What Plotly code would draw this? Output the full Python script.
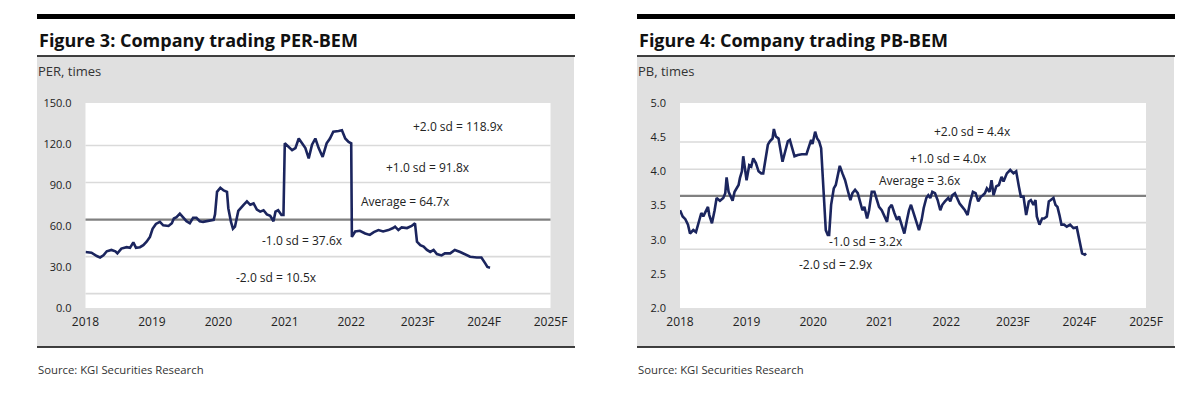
import plotly.graph_objects as go

# ---------------- data ----------------
per_t = [2018.00, 2018.09, 2018.17, 2018.22, 2018.27, 2018.32, 2018.39, 2018.45, 2018.48, 2018.54,
         2018.62, 2018.67, 2018.72, 2018.76, 2018.82, 2018.87, 2018.92, 2018.97, 2019.01, 2019.06,
         2019.12, 2019.17, 2019.25, 2019.30, 2019.33, 2019.37, 2019.42, 2019.47, 2019.52, 2019.57,
         2019.62, 2019.67, 2019.72, 2019.77, 2019.85, 2019.93, 2019.95, 2019.98, 2020.03, 2020.08,
         2020.13, 2020.15, 2020.19, 2020.22, 2020.25, 2020.30, 2020.38, 2020.43, 2020.48, 2020.53,
         2020.58, 2020.63, 2020.68, 2020.73, 2020.78, 2020.83, 2020.86, 2020.90, 2020.95, 2020.98,
         2021.00, 2021.06, 2021.11, 2021.16, 2021.21, 2021.26, 2021.31, 2021.36, 2021.41, 2021.46,
         2021.51, 2021.57, 2021.63, 2021.68, 2021.73, 2021.81, 2021.86, 2021.91, 2021.96, 2022.00,
         2022.01, 2022.06, 2022.13, 2022.21, 2022.28, 2022.34, 2022.41, 2022.48, 2022.56, 2022.63,
         2022.66, 2022.71, 2022.76, 2022.84, 2022.91, 2022.96, 2022.99, 2023.04, 2023.09, 2023.14,
         2023.19, 2023.24, 2023.29, 2023.36, 2023.41, 2023.49, 2023.56, 2023.64, 2023.71, 2023.79,
         2023.89, 2023.96, 2024.02, 2024.05, 2024.09]
per_v = [41.0, 40.5, 38.0, 37.0, 38.5, 41.5, 42.5, 41.5, 40.0, 43.5,
         44.5, 44.0, 48.0, 44.0, 44.5, 46.0, 48.5, 52.0, 58.0, 61.5,
         63.0, 60.5, 60.0, 62.0, 65.5, 66.5, 69.0, 66.5, 63.5, 62.0,
         66.0, 66.0, 63.5, 63.0, 64.0, 64.5, 68.5, 85.0, 88.0, 86.0,
         85.0, 73.0, 63.0, 58.0, 59.5, 71.0, 75.5, 78.0, 75.5, 76.5,
         72.0, 70.5, 71.5, 68.5, 67.5, 63.5, 70.5, 71.5, 68.0, 68.0,
         120.5, 118.0, 115.5, 117.0, 124.0, 120.5, 117.0, 109.5, 119.5, 124.0,
         117.0, 110.5, 120.5, 124.0, 129.0, 129.5, 130.0, 124.0, 121.5, 120.5,
         52.0, 56.0, 56.5, 54.5, 53.5, 55.5, 57.0, 56.0, 57.0, 58.5,
         59.5, 57.0, 59.0, 58.5, 60.0, 62.0, 48.5, 46.0, 45.0, 42.5,
         41.0, 42.5, 39.5, 38.5, 40.0, 40.0, 42.5, 41.0, 39.5, 37.5,
         37.0, 37.0, 32.5, 30.0, 29.5]

pb_t = [2018.00, 2018.04, 2018.08, 2018.12, 2018.15, 2018.20, 2018.24, 2018.28, 2018.32, 2018.35,
        2018.39, 2018.42, 2018.44, 2018.48, 2018.52, 2018.55, 2018.60, 2018.65, 2018.68, 2018.70,
        2018.73, 2018.75, 2018.79, 2018.82, 2018.85, 2018.88, 2018.90, 2018.93, 2018.95, 2018.98,
        2019.00, 2019.04, 2019.07, 2019.10, 2019.14, 2019.18, 2019.22, 2019.25, 2019.29, 2019.32,
        2019.35, 2019.39, 2019.41, 2019.44, 2019.48, 2019.52, 2019.54, 2019.58, 2019.62, 2019.65,
        2019.69, 2019.72, 2019.77, 2019.83, 2019.90, 2019.94, 2019.97, 2019.99, 2020.03, 2020.06,
        2020.09, 2020.12, 2020.14, 2020.15, 2020.17, 2020.19, 2020.22, 2020.24, 2020.27, 2020.31,
        2020.34, 2020.38, 2020.40, 2020.44, 2020.48, 2020.52, 2020.56, 2020.59, 2020.63, 2020.67,
        2020.71, 2020.74, 2020.77, 2020.81, 2020.84, 2020.88, 2020.92, 2020.96, 2020.99, 2021.03,
        2021.07, 2021.11, 2021.14, 2021.18, 2021.22, 2021.26, 2021.29, 2021.33, 2021.37, 2021.41,
        2021.44, 2021.47, 2021.51, 2021.55, 2021.59, 2021.63, 2021.66, 2021.70, 2021.73, 2021.76,
        2021.79, 2021.83, 2021.87, 2021.91, 2021.94, 2021.98, 2022.03, 2022.06, 2022.09, 2022.13,
        2022.17, 2022.20, 2022.24, 2022.28, 2022.32, 2022.36, 2022.40, 2022.44, 2022.48, 2022.52,
        2022.55, 2022.58, 2022.61, 2022.65, 2022.68, 2022.71, 2022.75, 2022.79, 2022.83, 2022.86,
        2022.91, 2022.96, 2023.01, 2023.05, 2023.09, 2023.12, 2023.16, 2023.20, 2023.24, 2023.27,
        2023.31, 2023.34, 2023.36, 2023.40, 2023.44, 2023.47, 2023.51, 2023.54, 2023.57, 2023.61,
        2023.64, 2023.67, 2023.70, 2023.73, 2023.77, 2023.81, 2023.86, 2023.91, 2023.96, 2023.99,
        2024.02, 2024.04, 2024.08, 2024.10]
pb_v = [3.43, 3.34, 3.30, 3.22, 3.09, 3.14, 3.11, 3.26, 3.39, 3.34,
        3.43, 3.48, 3.36, 3.24, 3.43, 3.61, 3.57, 3.61, 3.68, 3.91,
        3.70, 3.65, 3.57, 3.70, 3.75, 3.80, 3.90, 4.00, 4.22, 3.95,
        3.87, 4.09, 4.07, 4.19, 4.12, 4.00, 3.97, 3.97, 4.19, 4.39,
        4.44, 4.48, 4.62, 4.51, 4.48, 4.22, 4.14, 4.29, 4.44, 4.46,
        4.34, 4.22, 4.24, 4.25, 4.25, 4.39, 4.46, 4.40, 4.58, 4.48,
        4.44, 4.34, 4.04, 3.75, 3.51, 3.14, 3.07, 3.07, 3.51, 3.75,
        3.80, 3.97, 4.08, 3.97, 3.87, 3.72, 3.58, 3.68, 3.73, 3.68,
        3.51, 3.43, 3.48, 3.31, 3.43, 3.70, 3.70, 3.56, 3.48, 3.43,
        3.34, 3.26, 3.46, 3.51, 3.39, 3.29, 3.34, 3.22, 3.09, 3.29,
        3.43, 3.51, 3.39, 3.26, 3.14, 3.29, 3.46, 3.61, 3.65, 3.61,
        3.70, 3.68, 3.58, 3.43, 3.51, 3.56, 3.61, 3.56, 3.65, 3.68,
        3.58, 3.53, 3.48, 3.43, 3.36, 3.56, 3.70, 3.68, 3.56, 3.63,
        3.65, 3.68, 3.75, 3.70, 3.87, 3.65, 3.78, 3.80, 3.92, 3.85,
        3.97, 4.02, 3.97, 4.00, 3.78, 3.63, 3.63, 3.36, 3.56, 3.58,
        3.51, 3.58, 3.34, 3.22, 3.31, 3.31, 3.34, 3.56, 3.58, 3.61,
        3.51, 3.48, 3.36, 3.22, 3.22, 3.19, 3.22, 3.17, 3.18, 3.04,
        2.85, 2.80, 2.78, 2.80]

# band levels (+2sd, +1sd, avg, -1sd, -2sd)
per_levels = [118.9, 91.8, 64.7, 37.6, 10.5]
pb_levels = [4.43, 4.03, 3.64, 3.25, 2.86]
band_labels_per = ["+2.0 sd = 118.9x", "+1.0 sd = 91.8x", "Average = 64.7x", "-1.0 sd = 37.6x", "-2.0 sd = 10.5x"]
band_labels_pb = ["+2.0 sd = 4.4x", "+1.0 sd = 4.0x", "Average = 3.6x", "-1.0 sd = 3.2x", "-2.0 sd = 2.9x"]
# label anchor positions (year, value)
per_label_x = [2023.61, 2023.16, 2022.82, 2021.27, 2020.88]
per_label_y = [133.1, 103.1, 77.8, 49.2, 22.2]
pb_label_x = [2022.39, 2022.03, 2021.60, 2020.80, 2020.35]
pb_label_y = [4.59, 4.19, 3.87, 2.98, 2.64]

year_ticks = [2018, 2019, 2020, 2021, 2022, 2023, 2024, 2025]
year_text = ["2018", "2019", "2020", "2021", "2022", "2023F", "2024F", "2025F"]
per_ticks = [0, 30, 60, 90, 120, 150]
pb_ticks = [2.0, 2.5, 3.0, 3.5, 4.0, 4.5, 5.0]

titles = ["Figure 3: Company trading PER-BEM", "Figure 4: Company trading PB-BEM"]
units = ["PER, times", "PB, times"]
source = "Source: KGI Securities Research"

# ---------------- layout helpers ----------------
OFF = 8                      # page body margin
W, H = 1200 - OFF, 395 - OFF
FONT = "Open Sans"
LINE_COLOR = "#1b255e"

def px(x):
    return (x - OFF) / W

def py(y):
    return 1 - (y - OFF) / H

fig = go.Figure()

fig.add_trace(go.Scatter(x=per_t, y=per_v, mode="lines", xaxis="x", yaxis="y",
                         line=dict(color=LINE_COLOR, width=2.6), showlegend=False))
fig.add_trace(go.Scatter(x=pb_t, y=pb_v, mode="lines", xaxis="x2", yaxis="y2",
                         line=dict(color=LINE_COLOR, width=2.6), showlegend=False))

shapes = []
annotations = []

panels = [
    dict(x0=37, x1=575, px0=85.5, px1=550.5, xa="x", ya="y", levels=per_levels,
         labels=band_labels_per, lx=per_label_x, ly=per_label_y),
    dict(x0=637, x1=1175, px0=680, px1=1146, xa="x2", ya="y2", levels=pb_levels,
         labels=band_labels_pb, lx=pb_label_x, ly=pb_label_y),
]

for i, p in enumerate(panels):
    shapes.append(dict(type="rect", xref="paper", yref="paper", x0=px(p["x0"]), x1=px(p["x1"]),
                       y0=py(19), y1=py(14), fillcolor="black", line=dict(width=0), layer="below"))
    shapes.append(dict(type="rect", xref="paper", yref="paper", x0=px(p["x0"]), x1=px(p["x1"] - 1),
                       y0=py(346.5), y1=py(56.5), fillcolor="#e0e0e0", line=dict(width=0), layer="below"))
    shapes.append(dict(type="line", xref="paper", yref="paper", x0=px(p["x0"]), x1=px(p["x1"]),
                       y0=py(56), y1=py(56), line=dict(color="black", width=1.5), layer="below"))
    shapes.append(dict(type="line", xref="paper", yref="paper", x0=px(p["x0"]), x1=px(p["x1"]),
                       y0=py(347), y1=py(347), line=dict(color="black", width=1.5), layer="below"))
    shapes.append(dict(type="rect", xref="paper", yref="paper", x0=px(p["px0"]), x1=px(p["px1"]),
                       y0=py(308), y1=py(103), fillcolor="white", line=dict(width=0), layer="below"))
    for j, lv in enumerate(p["levels"]):
        avg = (j == 2)
        shapes.append(dict(type="line", xref=p["xa"] + " domain", yref=p["ya"], x0=0, x1=1,
                           y0=lv, y1=lv,
                           line=dict(color="#808080" if avg else "#dadada", width=2.2 if avg else 1.6),
                           layer="below"))
    for j, lab in enumerate(p["labels"]):
        annotations.append(dict(text=lab, x=p["lx"][j], y=p["ly"][j], xref=p["xa"], yref=p["ya"],
                                showarrow=False, xanchor="center", yanchor="middle",
                                font=dict(family=FONT, size=12, color="#222222")))
    annotations.append(dict(text="<b>" + titles[i] + "</b>", x=px(p["x0"]), y=py(40), xref="paper", yref="paper",
                            showarrow=False, xanchor="left", yanchor="middle",
                            font=dict(family=FONT, size=18, color="#111111")))
    annotations.append(dict(text=units[i], x=px(p["x0"] - 1), y=py(71), xref="paper", yref="paper",
                            showarrow=False, xanchor="left", yanchor="middle",
                            font=dict(family=FONT, size=13, color="#333333")))
    annotations.append(dict(text=source, x=px(p["x0"] - 1), y=py(369), xref="paper", yref="paper",
                            showarrow=False, xanchor="left", yanchor="middle",
                            font=dict(family=FONT, size=11.3, color="#333333")))

xdom1 = [px(85.5), px(550.5)]
xdom2 = [px(680), px(1146)]
ydom = [py(308), py(103)]

xaxis_common = dict(range=[2018, 2025], tickmode="array", tickvals=year_ticks, ticktext=year_text,
                    showgrid=False, zeroline=False, showline=False, ticks="", automargin=False,
                    tickfont=dict(family=FONT, size=12, color="#222222"), ticklabelstandoff=5)
yaxis_common = dict(showgrid=False, zeroline=False, showline=False, ticks="", automargin=False,
                    tickfont=dict(family=FONT, size=11, color="#222222"), ticklabelstandoff=13)

fig.update_layout(
    width=W, height=H, autosize=False,
    margin=dict(l=0, r=0, t=0, b=0, pad=0, autoexpand=False),
    paper_bgcolor="white",
    plot_bgcolor="rgba(0,0,0,0)",
    showlegend=False,
    xaxis=dict(domain=xdom1, anchor="y", **xaxis_common),
    yaxis=dict(domain=ydom, anchor="x", range=[0, 150], tickmode="array", tickvals=per_ticks,
               ticktext=[f"{v:.1f}" for v in per_ticks], **yaxis_common),
    xaxis2=dict(domain=xdom2, anchor="y2", **xaxis_common),
    yaxis2=dict(domain=ydom, anchor="x2", range=[2, 5], tickmode="array", tickvals=pb_ticks,
                ticktext=[f"{v:.1f}" for v in pb_ticks], **yaxis_common),
    shapes=shapes,
    annotations=annotations,
)

fig.write_html("out.html")
